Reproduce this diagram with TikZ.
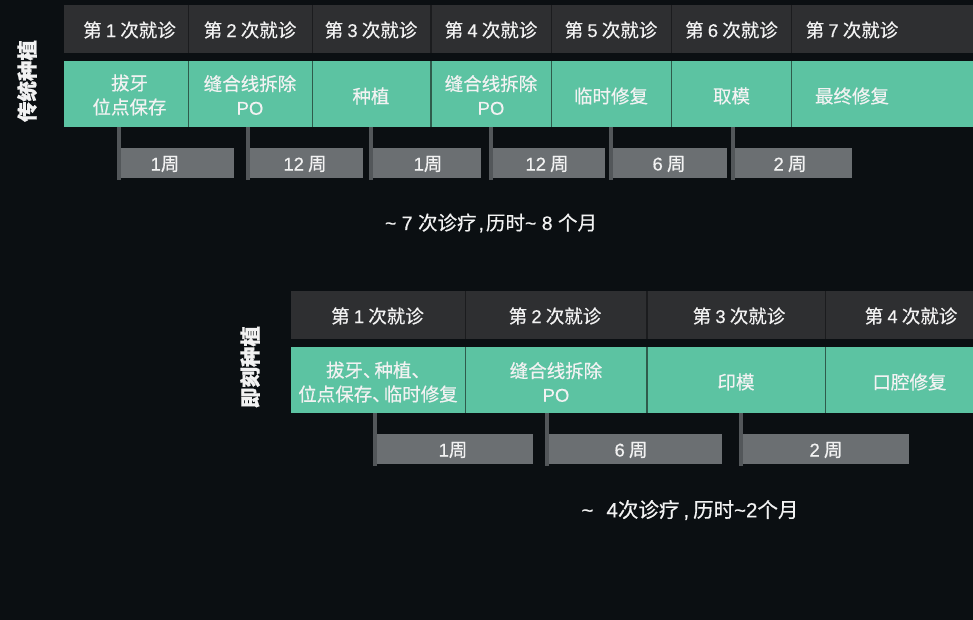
\documentclass[tikz,border=0pt]{standalone}
\usepackage{fontspec}
\setmainfont{Noto Sans CJK SC}[FakeBold=0.5]
\newfontfamily\latf{Liberation Sans}[FakeBold=0.4]
\newcommand\Lat[1]{{\latf #1}}
\usetikzlibrary{fit}
\definecolor{bg}{HTML}{0B0F12}
\definecolor{hdr}{HTML}{2E2F31}
\definecolor{hdrsep}{HTML}{1B1C1E}
\definecolor{grn}{HTML}{5CC3A2}
\definecolor{grnsep}{HTML}{2F5B4C}
\definecolor{wbox}{HTML}{6B6F72}
\definecolor{stubc}{HTML}{53575A}
\definecolor{txt}{HTML}{F2F2F2}
\begin{document}
\begin{tikzpicture}[x=1pt,y=-1pt,
  area/.style={inner sep=0pt, outer sep=0pt, draw=none},
  hcell/.style={area, fill=hdr},
  gcell/.style={area, fill=grn},
  wcell/.style={area, fill=wbox},
  hsep/.style={draw=hdrsep, line width=1.6pt},
  gsep/.style={draw=grnsep, line width=1.6pt},
  stub/.style={draw=stubc, line width=4pt},
  lbl/.style={text=txt, font=\fontsize{18.5}{24}\selectfont, align=center, inner sep=0pt},
  sumlbl/.style={text=txt, font=\fontsize{19.5}{24}\selectfont, inner sep=0pt},
  side/.style={text=txt, font=\fontsize{20.5}{24}\selectfont\bfseries, rotate=90, inner sep=0pt}]
\useasboundingbox (0,0) rectangle (973,620);
\fill[bg] (0,0) rectangle (973,620);

% ---------- traditional ----------
\node[side] (s1) at (27,81) {传统种植};

\node[hcell, fit={(64,5) (188.5,53)}] (h1) {};
\node[hcell, fit={(188.5,5) (312.5,53)}] (h2) {};
\node[hcell, fit={(312.5,5) (431,53)}] (h3) {};
\node[hcell, fit={(431,5) (551.5,53)}] (h4) {};
\node[hcell, fit={(551.5,5) (671.5,53)}] (h5) {};
\node[hcell, fit={(671.5,5) (791.5,53)}] (h6) {};
\node[hcell, fit={(791.5,5) (975,53)}] (h7) {};
\foreach \n in {h1,h2,h3,h4,h5,h6} \draw[hsep] (\n.north east) -- (\n.south east);

\node[gcell, fit={(64,61) (188.5,127)}] (g1) {};
\node[gcell, fit={(188.5,61) (312.5,127)}] (g2) {};
\node[gcell, fit={(312.5,61) (431,127)}] (g3) {};
\node[gcell, fit={(431,61) (551.5,127)}] (g4) {};
\node[gcell, fit={(551.5,61) (671.5,127)}] (g5) {};
\node[gcell, fit={(671.5,61) (791.5,127)}] (g6) {};
\node[gcell, fit={(791.5,61) (975,127)}] (g7) {};
\foreach \n in {g1,g2,g3,g4,g5,g6} \draw[gsep] (\n.north east) -- (\n.south east);

\node[lbl] (th1) at (129.5,30) {第 \Lat{1} 次就诊};
\node[lbl] (th2) at (250,30) {第 \Lat{2} 次就诊};
\node[lbl] (th3) at (371,30) {第 \Lat{3} 次就诊};
\node[lbl] (th4) at (491,30) {第 \Lat{4} 次就诊};
\node[lbl] (th5) at (611,30) {第 \Lat{5} 次就诊};
\node[lbl] (th6) at (731.5,30) {第 \Lat{6} 次就诊};
\node[lbl] (th7) at (852,30) {第 \Lat{7} 次就诊};

\node[lbl] (tg1) at (129.5,95) {拔牙\\位点保存};
\node[lbl] (tg2) at (250,95) {缝合线拆除\\\Lat{PO}};
\node[lbl] (tg3) at (371,96) {种植};
\node[lbl] (tg4) at (491,95) {缝合线拆除\\\Lat{PO}};
\node[lbl] (tg5) at (611,96) {临时修复};
\node[lbl] (tg6) at (731.5,96) {取模};
\node[lbl] (tg7) at (852,96) {最终修复};

\node[wcell, fit={(117,148) (234,178)}] (w1) {};
\node[wcell, fit={(246,148) (363,178)}] (w2) {};
\node[wcell, fit={(369,148) (481,178)}] (w3) {};
\node[wcell, fit={(489,148) (605,178)}] (w4) {};
\node[wcell, fit={(609,148) (727,178)}] (w5) {};
\node[wcell, fit={(731,148) (852,178)}] (w6) {};
\foreach \w/\g in {w1/g1,w2/g2,w3/g3,w4/g4,w5/g5,w6/g6}
  \draw[stub] ([xshift=2pt]\w.north west |- \g.south) -- ([xshift=2pt,yshift=-2pt]\w.south west);

\node[lbl] (tw1) at (165,164) {\Lat{1}周};
\node[lbl] (tw2) at (305,164) {\Lat{12} 周};
\node[lbl] (tw3) at (428,164) {\Lat{1}周};
\node[lbl] (tw4) at (547,164) {\Lat{12} 周};
\node[lbl] (tw5) at (669,164) {\Lat{6} 周};
\node[lbl] (tw6) at (790,164) {\Lat{2} 周};

\node[sumlbl] (sum1) at (491,223) {\Lat{\textasciitilde\ 7 }次诊疗\hspace{2pt}\Lat{,}\hspace{2pt}历时\Lat{\textasciitilde\ 8 }个月};

% ---------- immediate ----------
\node[side] (s2) at (250,367) {即刻种植};

\node[hcell, fit={(291,291) (465.5,339)}] (H1) {};
\node[hcell, fit={(465.5,291) (647,339)}] (H2) {};
\node[hcell, fit={(647,291) (825.5,339)}] (H3) {};
\node[hcell, fit={(825.5,291) (975,339)}] (H4) {};
\foreach \n in {H1,H2,H3} \draw[hsep] (\n.north east) -- (\n.south east);

\node[gcell, fit={(291,347) (465.5,413)}] (G1) {};
\node[gcell, fit={(465.5,347) (647,413)}] (G2) {};
\node[gcell, fit={(647,347) (825.5,413)}] (G3) {};
\node[gcell, fit={(825.5,347) (975,413)}] (G4) {};
\foreach \n in {G1,G2,G3} \draw[gsep] (\n.north east) -- (\n.south east);

\node[lbl] (TH1) at (377.5,316) {第 \Lat{1} 次就诊};
\node[lbl] (TH2) at (555,316) {第 \Lat{2} 次就诊};
\node[lbl] (TH3) at (739,316) {第 \Lat{3} 次就诊};
\node[lbl] (TH4) at (911,316) {第 \Lat{4} 次就诊};

\node[lbl] (TG1) at (378,382) {拔牙、\hspace{-7pt}种植、\hspace{-7pt}\\位点保存、\hspace{-7pt}临时修复};
\node[lbl] (TG2) at (556,382) {缝合线拆除\\\Lat{PO}};
\node[lbl] (TG3) at (736,382) {印模};
\node[lbl] (TG4) at (909.5,382) {口腔修复};

\node[wcell, fit={(373,434) (533,464)}] (W1) {};
\node[wcell, fit={(545,434) (722,464)}] (W2) {};
\node[wcell, fit={(739,434) (909,464)}] (W3) {};
\foreach \w/\g in {W1/G1,W2/G2,W3/G3}
  \draw[stub] ([xshift=2pt]\w.north west |- \g.south) -- ([xshift=2pt,yshift=-2pt]\w.south west);

\node[lbl] (TW1) at (453,450) {\Lat{1}周};
\node[lbl] (TW2) at (631,450) {\Lat{6} 周};
\node[lbl] (TW3) at (826,450) {\Lat{2} 周};

\node[sumlbl, font=\fontsize{20.5}{24}\selectfont] (sum2) at (690,510) {\Lat{\textasciitilde\hspace{13pt}4}次诊疗\hspace{4pt}\Lat{,}\hspace{4pt}历时\Lat{\textasciitilde 2}个月};
\end{tikzpicture}
\end{document}
